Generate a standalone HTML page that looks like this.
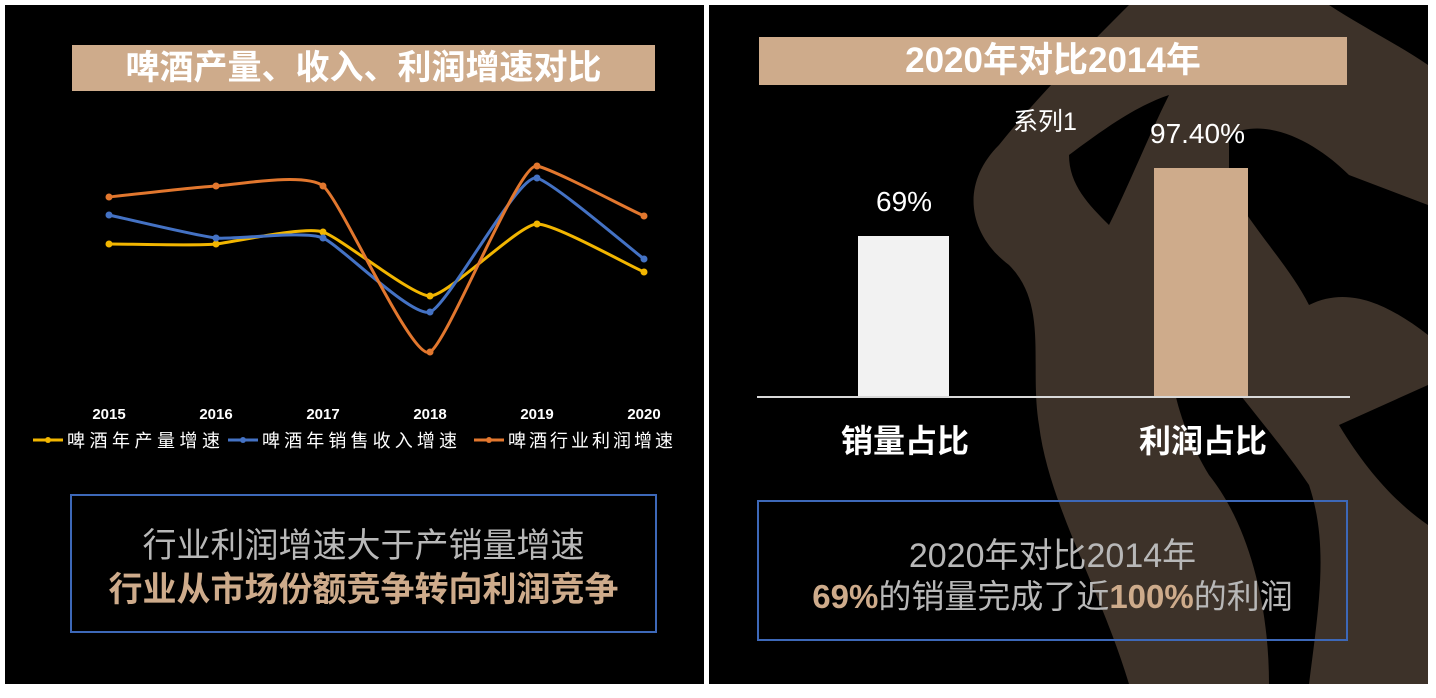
<!DOCTYPE html>
<html><head><meta charset="utf-8"><style>
body{margin:0;width:1436px;height:698px;background:#fff;position:relative;overflow:hidden;font-family:"Liberation Sans","Noto Sans CJK SC",sans-serif}
.p{position:absolute;background:#000;overflow:hidden}
.t{position:absolute;color:#fff;white-space:nowrap}
</style></head><body>
<div class="p" style="left:5px;top:5px;width:699px;height:679px"></div>
<div class="p" style="left:709px;top:5px;width:719px;height:679px">
<svg width="719" height="679" style="position:absolute;left:0;top:0">
<g fill="#3d3229">
<path d="M420 0 C380 40 330 90 290 140 C250 180 260 230 300 260 C340 300 320 360 330 420 C340 500 390 580 420 679 L719 679 L719 0 Z"/>
</g>
<g fill="#000">
<path d="M520 130 C560 110 610 140 640 170 L719 200 L719 330 C680 300 640 280 600 300 C580 260 540 220 520 180 Z"/>
<path d="M470 300 C500 360 560 420 600 480 C620 540 610 600 600 679 L560 679 C560 600 540 520 500 470 C470 420 450 360 470 300Z"/>
<path d="M360 150 C400 120 430 100 460 90 C440 130 420 180 400 220 C380 200 360 180 360 150Z"/>
<path d="M630 420 L719 380 L719 520 C690 500 660 470 630 420Z"/>
<path d="M620 0 L719 0 L719 60 C690 40 650 20 620 0Z"/>
</g>
</svg>
</div>
<!-- left -->
<div style="position:absolute;left:72px;top:45px;width:583px;height:46px;background:#ceab8b"></div>
<div class="t" style="left:72px;top:45px;width:583px;text-align:center;font-size:34px;line-height:46px;font-weight:bold">啤酒产量、收入、利润增速对比</div>
<svg width="720" height="480" style="position:absolute;left:0;top:0">
<path d="M109 244 C127 244 198 246 216 244 C234 242 305 226 323 232 C341 238 412 296 430 296 C448 296 519 224 537 224 C555 224 626 264 644 272" fill="none" stroke="#f2b600" stroke-width="3"/>
<path d="M109 215 C127 219 198 236 216 238 C234 240 305 230 323 238 C341 246 412 318 430 312 C448 306 519 172 537 178 C555 184 626 245 644 259" fill="none" stroke="#4472c4" stroke-width="3"/>
<path d="M109 197 C127 195 198 187 216 186 C234 185 305 172 323 186 C341 200 412 362 430 352 C448 342 519 162 537 166 C555 170 626 208 644 216" fill="none" stroke="#e2772e" stroke-width="3"/>
<g fill="#f2b600"><circle cx="109" cy="244" r="3.5"/><circle cx="216" cy="244" r="3.5"/><circle cx="323" cy="232" r="3.5"/><circle cx="430" cy="296" r="3.5"/><circle cx="537" cy="224" r="3.5"/><circle cx="644" cy="272" r="3.5"/></g>
<g fill="#4472c4"><circle cx="109" cy="215" r="3.5"/><circle cx="216" cy="238" r="3.5"/><circle cx="323" cy="238" r="3.5"/><circle cx="430" cy="312" r="3.5"/><circle cx="537" cy="178" r="3.5"/><circle cx="644" cy="259" r="3.5"/></g>
<g fill="#e2772e"><circle cx="109" cy="197" r="3.5"/><circle cx="216" cy="186" r="3.5"/><circle cx="323" cy="186" r="3.5"/><circle cx="430" cy="352" r="3.5"/><circle cx="537" cy="166" r="3.5"/><circle cx="644" cy="216" r="3.5"/></g>
<g fill="#fff" font-size="15" font-weight="bold" text-anchor="middle" font-family="Liberation Sans,sans-serif">
<text x="109" y="419">2015</text><text x="216" y="419">2016</text><text x="323" y="419">2017</text><text x="430" y="419">2018</text><text x="537" y="419">2019</text><text x="644" y="419">2020</text></g>
<g stroke-width="3"><line x1="33" y1="440" x2="63" y2="440" stroke="#f2b600"/><line x1="228" y1="440" x2="258" y2="440" stroke="#4472c4"/><line x1="474" y1="440" x2="504" y2="440" stroke="#e2772e"/></g>
<circle cx="48" cy="440" r="3" fill="#f2b600"/><circle cx="243" cy="440" r="3" fill="#4472c4"/><circle cx="489" cy="440" r="3" fill="#e2772e"/>
<g fill="#fff" font-size="18" font-family="Liberation Sans,Noto Sans CJK SC,sans-serif"><text x="67" y="447" textLength="153">啤酒年产量增速</text><text x="262" y="447" textLength="195">啤酒年销售收入增速</text><text x="508" y="447" textLength="165">啤酒行业利润增速</text></g>
</svg>
<div style="position:absolute;left:70px;top:494px;width:583px;height:135px;border:2px solid #3d68b8"></div>
<div class="t" style="left:70px;top:518px;width:587px;text-align:center;font-size:34px;color:#b8b8b8">行业利润增速大于产销量增速</div>
<div class="t" style="left:70px;top:562px;width:587px;text-align:center;font-size:34px;color:#ceab8b;font-weight:bold">行业从市场份额竞争转向利润竞争</div>
<!-- right -->
<div style="position:absolute;left:759px;top:37px;width:588px;height:48px;background:#ceab8b"></div>
<div class="t" style="left:759px;top:37px;width:588px;text-align:center;font-size:35px;line-height:48px;font-weight:bold">2020年对比2014年</div>
<div class="t" style="left:1013px;top:102px;font-size:25px">系列1</div>
<div class="t" style="left:1150px;top:118px;font-size:28px">97.40%</div>
<div class="t" style="left:876px;top:186px;font-size:28px">69%</div>
<div style="position:absolute;left:858px;top:236px;width:91px;height:161px;background:#f2f2f2"></div>
<div style="position:absolute;left:1154px;top:168px;width:94px;height:229px;background:#ceab8b"></div>
<div style="position:absolute;left:757px;top:396px;width:593px;height:2px;background:#d9d9d9"></div>
<div class="t" style="left:841px;top:416px;font-size:32px;font-weight:bold">销量占比</div>
<div class="t" style="left:1139px;top:416px;font-size:32px;font-weight:bold">利润占比</div>
<div style="position:absolute;left:757px;top:500px;width:587px;height:137px;border:2px solid #3d68b8"></div>
<div class="t" style="left:757px;top:528px;width:591px;text-align:center;font-size:34px;color:#b8b8b8">2020年对比2014年</div>
<div class="t" style="left:757px;top:570px;width:591px;text-align:center;font-size:33px;color:#b8b8b8"><b style="color:#ceab8b">69%</b>的销量完成了近<b style="color:#ceab8b">100%</b>的利润</div>
</body></html>
